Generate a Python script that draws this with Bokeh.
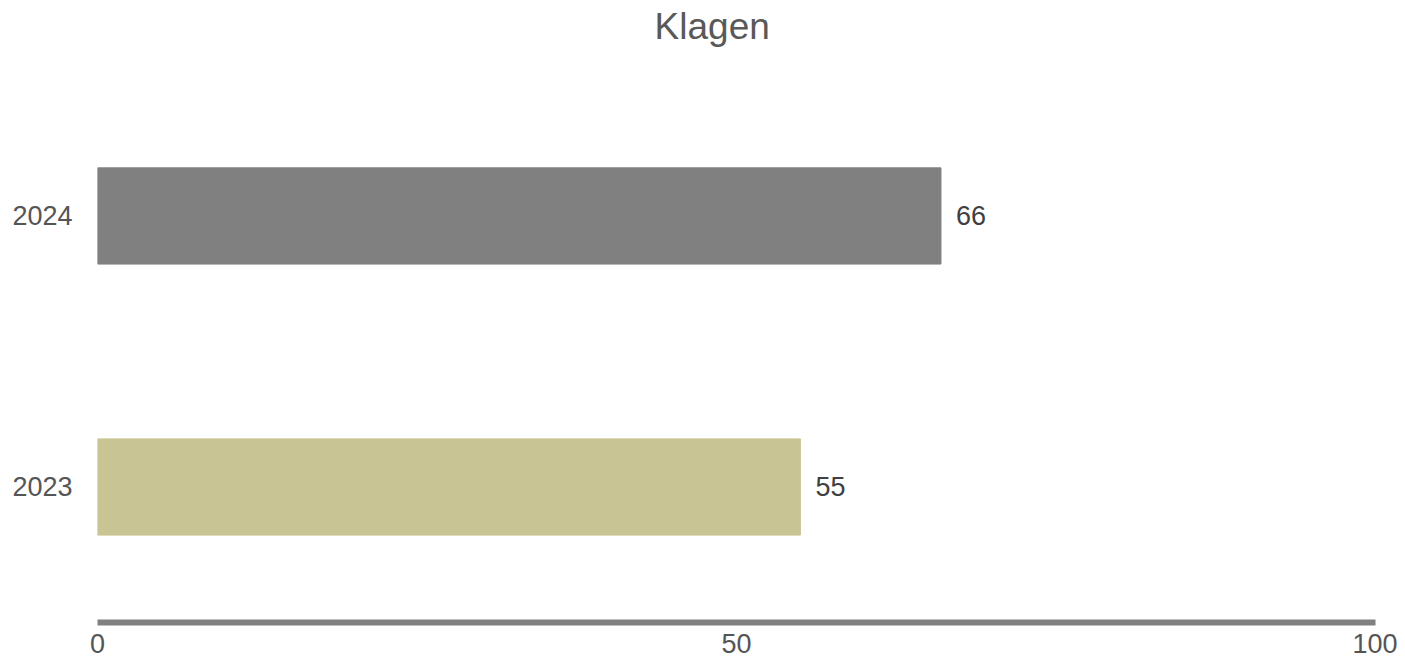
from bokeh.plotting import figure
from bokeh.models import ColumnDataSource, FixedTicker, Range1d, LabelSet, Label
from bokeh.core.properties import value
from bokeh.embed import file_html
from bokeh.resources import INLINE

title_text = "Klagen"
categories = ["2023", "2024"]
values = [55, 66]
colors = ["#C9C493", "#808080"]
x_ticks = [0, 50, 100]

FONT = "Liberation Sans"

ypos = [i + 0.5 for i in range(len(categories))]
src = ColumnDataSource(dict(y=ypos, cat=categories, val=values, color=colors,
                            lbl=[str(v) for v in values]))

# y range extended above the bars so that the title sits inside the frame
p = figure(x_range=Range1d(0, 100), y_range=Range1d(0, 2.295),
           width=1397, height=661,
           output_backend="svg", toolbar_location=None,
           min_border_left=97, min_border_right=22, min_border_top=0,
           min_border_bottom=39)

p.hbar(y="y", right="val", left=0, height=0.355, color="color", source=src)

labels = LabelSet(x="val", y="y", text="lbl", source=src, x_offset=15,
                  text_baseline="middle", text_align="left",
                  text_font=value(FONT), text_font_size=value("27px"),
                  text_color="#404040")
p.add_layout(labels)

# title centred on the whole page width
title = Label(x=48.1, y=2.2, text=title_text,
              text_align="center", text_baseline="middle",
              text_font=FONT, text_font_size="37px", text_color="#595959")
p.add_layout(title)

p.outline_line_color = None
p.xgrid.grid_line_color = None
p.ygrid.grid_line_color = None

xa = p.xaxis[0]
xa.ticker = FixedTicker(ticks=x_ticks)
xa.axis_line_color = "#808080"
xa.axis_line_width = 6
xa.major_tick_line_color = None
xa.minor_tick_line_color = None
xa.major_tick_in = 0
xa.major_tick_out = 0
xa.major_label_standoff = 11
xa.major_label_text_font = FONT
xa.major_label_text_font_size = "27px"
xa.major_label_text_color = "#555555"

ya = p.yaxis[0]
ya.ticker = FixedTicker(ticks=ypos)
ya.major_label_overrides = {y: c for y, c in zip(ypos, categories)}
ya.axis_line_color = None
ya.major_tick_line_color = None
ya.minor_tick_line_color = None
ya.major_tick_in = 0
ya.major_tick_out = 0
ya.major_label_standoff = 25
ya.major_label_text_font = FONT
ya.major_label_text_font_size = "27px"
ya.major_label_text_color = "#555555"

open("out.html", "w").write(file_html(p, INLINE))
